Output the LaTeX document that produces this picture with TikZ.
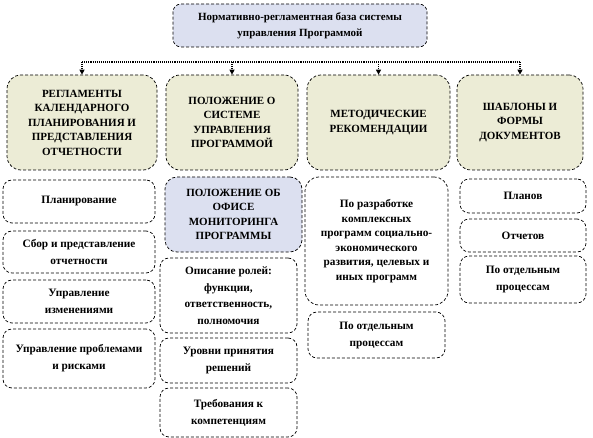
\documentclass[tikz,border=0pt]{standalone}
\usepackage{fontspec}
\setmainfont{Liberation Serif}
\usepackage{tikz}
\usepackage{xcolor}
\usetikzlibrary{arrows.meta, positioning, calc}
\definecolor{cHead}{RGB}{220,224,240}
\definecolor{cSect}{RGB}{236,236,214}
\tikzset{
	hdrbox/.style ={rectangle, rounded corners=8pt, draw=black, densely dashed, line width=0.7pt, fill=cHead, align=center, inner sep=2pt, font=\fontsize{11}{16}\selectfont\bfseries},
	secbox/.style ={rectangle, rounded corners=14pt, draw=black, densely dashed, line width=0.7pt, fill=cSect, align=center, inner sep=2pt, font=\fontsize{11}{14.5}\selectfont\bfseries},
	itembox/.style={rectangle, rounded corners=9pt, draw=black, densely dashed, line width=0.7pt, fill=white, align=center, inner sep=2pt, font=\fontsize{11.3}{17}\selectfont\bfseries},
	% connectors
	busline/.style={densely dotted, line width=1.1pt},
	sig/.style    ={-{Triangle[width=5pt, length=5pt]}, densely dotted, line width=1.1pt},
}
\begin{document}
\begin{tikzpicture}[x=1pt, y=-1pt]
	\useasboundingbox (0,0) rectangle (593,438);
	% top
	\node[hdrbox, minimum width=254pt, minimum height=43pt] (base) at (300,25.5)
		{Нормативно-регламентная база системы\\управления Программой};
	% sections
	\node[secbox, minimum width=150pt, minimum height=95pt] (regl) at (82,122.5)
		{РЕГЛАМЕНТЫ\\КАЛЕНДАРНОГО\\ПЛАНИРОВАНИЯ И\\ПРЕДСТАВЛЕНИЯ\\ОТЧЕТНОСТИ};
	\node[secbox, minimum width=132pt, minimum height=95pt] (polo) at (232,122.5)
		{ПОЛОЖЕНИЕ О\\СИСТЕМЕ\\УПРАВЛЕНИЯ\\ПРОГРАММОЙ};
	\node[secbox, minimum width=143pt, minimum height=95pt] (meth) at (378.5,122.5)
		{МЕТОДИЧЕСКИЕ\\РЕКОМЕНДАЦИИ};
	\node[secbox, minimum width=126pt, minimum height=95pt] (tmpl) at (520,122.5)
		{ШАБЛОНЫ И\\ФОРМЫ\\ДОКУМЕНТОВ};
	% bus with arrows
	\coordinate (bus) at (0,62);
	\draw[busline] (regl.north |- bus) -- (tmpl.north |- bus);
	\foreach \b in {regl, polo, meth, tmpl}
		\draw[sig] (\b.north |- bus) -- (\b.north);
	% column 1
	\node[itembox, minimum width=152pt, minimum height=43pt] (plan) at (79,201.5) {Планирование};
	\node[itembox, minimum width=152pt, minimum height=42pt] (sbor) at (79,252) {Сбор и представление\\отчетности};
	\node[itembox, minimum width=152pt, minimum height=43pt] (izm) at (79,301.5) {Управление\\изменениями};
	\node[itembox, minimum width=152pt, minimum height=59pt] (risk) at (79,358.5) {Управление проблемами\\и рисками};
	% column 2
	\node[hdrbox, rounded corners=12pt, font=\fontsize{11}{14.5}\selectfont\bfseries, minimum width=137pt, minimum height=75pt] (ofis) at (233.5,214.5)
		{ПОЛОЖЕНИЕ ОБ\\ОФИСЕ\\МОНИТОРИНГА\\ПРОГРАММЫ};
	\node[itembox, minimum width=137pt, minimum height=75pt, font=\fontsize{11.3}{16.5}\selectfont\bfseries] (roli) at (228.5,295.5)
		{Описание ролей:\\функции,\\ответственность,\\полномочия};
	\node[itembox, minimum width=137pt, minimum height=45pt] (urov) at (228.5,360.5) {Уровни принятия\\решений};
	\node[itembox, minimum width=137pt, minimum height=49pt] (komp) at (228.5,412.5) {Требования к\\компетенциям};
	% column 3
	\node[itembox, rounded corners=14pt, minimum width=143pt, minimum height=128pt, font=\fontsize{11.3}{14.5}\selectfont\bfseries] (razr) at (376.5,241)
		{По разработке\\комплексных\\программ социально-\\экономического\\развития, целевых и\\иных программ};
	\node[itembox, minimum width=137pt, minimum height=46pt] (proc) at (376.5,335) {По отдельным\\процессам};
	% column 4
	\node[itembox, minimum width=126pt, minimum height=34pt] (plny) at (523,196) {Планов};
	\node[itembox, minimum width=126pt, minimum height=33pt] (otch) at (523,235.5) {Отчетов};
	\node[itembox, minimum width=126pt, minimum height=47pt] (prc2) at (523,279.5) {По отдельным\\процессам};
\end{tikzpicture}
\end{document}
